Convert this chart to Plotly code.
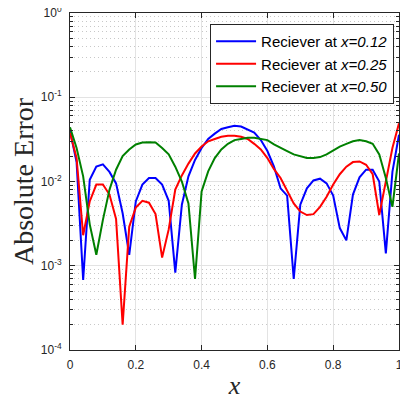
import plotly.graph_objects as go

x_vals = [round(i * 0.02, 2) for i in range(51)]

err_012 = [0.040, 0.017, 0.00068, 0.0105, 0.015, 0.016, 0.013, 0.0095, 0.0042, 0.00135,
           0.0058, 0.0092, 0.011, 0.011, 0.0092, 0.0059, 0.00083, 0.0053, 0.0115, 0.018,
           0.025, 0.032, 0.037, 0.042, 0.044, 0.046, 0.045, 0.041, 0.038, 0.031,
           0.023, 0.015, 0.0083, 0.0068, 0.0007, 0.0053, 0.0083, 0.0103, 0.0108, 0.0095,
           0.0068, 0.0028, 0.0020, 0.0070, 0.0112, 0.0138, 0.0138, 0.010, 0.0014, 0.013,
           0.036]

err_025 = [0.038, 0.019, 0.0023, 0.0058, 0.0092, 0.0092, 0.0070, 0.0036, 0.0002, 0.0029,
           0.0049, 0.0059, 0.0056, 0.0041, 0.00125, 0.0027, 0.0080, 0.0118, 0.0163, 0.0215,
           0.026, 0.030, 0.032, 0.034, 0.035, 0.035, 0.034, 0.032, 0.028, 0.024,
           0.019, 0.014, 0.011, 0.0078, 0.0055, 0.0044, 0.0040, 0.0041, 0.0050, 0.0066,
           0.0092, 0.0122, 0.015, 0.017, 0.0173, 0.0158, 0.0122, 0.0040, 0.010, 0.025,
           0.049]

err_050 = [0.044, 0.025, 0.0115, 0.0031, 0.00135, 0.0035, 0.0080, 0.0138, 0.020, 0.024,
           0.0275, 0.029, 0.0293, 0.029, 0.025, 0.021, 0.015, 0.010, 0.0055, 0.0007,
           0.0076, 0.0132, 0.019, 0.024, 0.028, 0.031, 0.032, 0.033, 0.033, 0.032,
           0.031, 0.0276, 0.025, 0.023, 0.021, 0.020, 0.019, 0.019, 0.0195, 0.021,
           0.0235, 0.026, 0.028, 0.030, 0.031, 0.030, 0.028, 0.021, 0.011, 0.0050,
           0.0215]

series_names = ["Reciever at <i>x=0.12</i>", "Reciever at <i>x=0.25</i>", "Reciever at <i>x=0.50</i>"]
series_colors = ["#0000ff", "#ff0000", "#008000"]

y_tickvals = [1e-4, 1e-3, 1e-2, 1e-1, 1]
y_ticktext = ["10<sup>-4</sup>", "10<sup>-3</sup>", "10<sup>-2</sup>", "10<sup>-1</sup>", "10<sup>0</sup>"]
x_tickvals = [0, 0.2, 0.4, 0.6, 0.8, 1]
x_ticktext = ["0", "0.2", "0.4", "0.6", "0.8", "1"]

minor_y = [k * 10 ** e for e in range(-4, 0) for k in range(2, 10)]

fig = go.Figure()
for ys, name, col in zip([err_012, err_025, err_050], series_names, series_colors):
    fig.add_trace(go.Scatter(x=x_vals, y=ys, mode="lines", name=name,
                             line=dict(color=col, width=2)))

axis_col = "#262626"
fig.update_layout(
    width=392, height=392,
    margin=dict(l=62, r=1, t=5, b=50, autoexpand=False),
    paper_bgcolor="white", plot_bgcolor="white",
    font=dict(family="Liberation Sans, Arial", size=12, color=axis_col),
    showlegend=True,
    legend=dict(x=0.985, y=0.967, xanchor="right", yanchor="top",
                bgcolor="white", bordercolor=axis_col, borderwidth=1,
                font=dict(size=15, color="black"), tracegroupgap=0,
                itemwidth=40),
)
fig.update_xaxes(
    range=[0, 1], tickvals=x_tickvals, ticktext=x_ticktext,
    showline=True, linecolor=axis_col, linewidth=1, mirror="ticks",
    ticks="inside", ticklen=5, tickcolor=axis_col,
    showgrid=True, gridcolor="#e3e3e3", gridwidth=1, zeroline=False,
    ticklabelstandoff=4, ticklabeloverflow="allow",
    tickfont=dict(size=12),
    automargin=False,
    title=dict(text="<i>x</i>", font=dict(family="Liberation Serif, Times New Roman", size=26, color=axis_col), standoff=18),
)
fig.update_yaxes(
    type="log", range=[-4, 0], tickvals=y_tickvals, ticktext=y_ticktext,
    showline=True, linecolor=axis_col, linewidth=1, mirror="ticks",
    ticks="inside", ticklen=5, tickcolor=axis_col,
    showgrid=True, gridcolor="#e3e3e3", gridwidth=1, zeroline=False,
    ticklabelstandoff=5, ticklabeloverflow="allow",
    tickfont=dict(size=12),
    automargin=False,
    minor=dict(tickvals=minor_y, ticks="inside", ticklen=3, tickcolor=axis_col,
               showgrid=True, gridcolor="#c8c8c8", griddash="1px,3px", gridwidth=1),
    title=dict(text="Absolute Error", font=dict(family="Liberation Serif, Times New Roman", size=28, color=axis_col), standoff=2),
)

fig.write_html("out.html")
